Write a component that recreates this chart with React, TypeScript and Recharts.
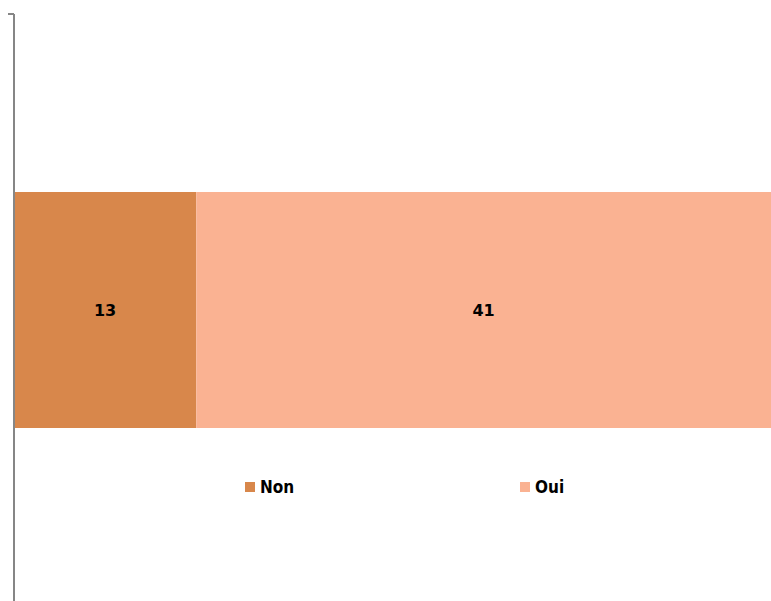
import { BarChart, Bar, XAxis, YAxis, LabelList } from "recharts";

const categories = ["Réponse"];
const nonValues = [13];
const ouiValues = [41];
const seriesNames = ["Non", "Oui"];
const seriesColors = ["#D8874B", "#FAB292"];

const data = categories.map((c, i) => ({
  name: c,
  Non: nonValues[i],
  Oui: ouiValues[i],
}));

const legendLeft = [245, 520];

// Excel-style tick marks on category boundaries
function BoundaryTick(props: any) {
  const { x, y, payload } = props;
  const half = payload && payload.offset ? payload.offset : 0;
  return (
    <g>
      <line x1={x - 6} x2={x} y1={y - half} y2={y - half} stroke="#868686" strokeWidth={2} />
      <line x1={x - 6} x2={x} y1={y + half} y2={y + half} stroke="#868686" strokeWidth={2} />
    </g>
  );
}

function ChartLegend() {
  return (
    <div style={{ position: "absolute", top: 477, left: 0, width: 771, height: 20 }}>
      {seriesNames.map((n, i) => (
        <div
          key={n}
          style={{
            position: "absolute",
            left: legendLeft[i],
            top: 0,
            display: "flex",
            alignItems: "center",
            fontFamily: "'Liberation Sans Narrow', 'DejaVu Sans Condensed', 'Liberation Sans', sans-serif",
            fontWeight: 700,
            fontSize: 17,
            color: "#000",
          }}
        >
          <span
            style={{
              display: "inline-block",
              width: 10,
              height: 10,
              background: seriesColors[i],
              marginRight: 5,
            }}
          />
          {n}
        </div>
      ))}
    </div>
  );
}

export default function App() {
  return (
    <div
      style={{
        position: "absolute",
        left: 0,
        top: 0,
        width: 771,
        height: 601,
        overflow: "hidden",
        background: "#fff",
      }}
    >
      <BarChart
        width={771}
        height={606}
        data={data}
        layout="vertical"
        margin={{ top: 14, right: 0, bottom: 0, left: 13 }}
      >
        <XAxis type="number" domain={[0, 54]} hide />
        <YAxis
          type="category"
          dataKey="name"
          width={1}
          axisLine={{ stroke: "#868686", strokeWidth: 2 }}
          tickLine={false}
          tickSize={0}
          tickMargin={0}
          tick={<BoundaryTick />}
        />
        {seriesNames.map((n, i) => (
          <Bar
            key={n}
            dataKey={n}
            stackId="a"
            fill={seriesColors[i]}
            barSize={236}
            isAnimationActive={false}
          >
            <LabelList
              dataKey={n}
              position="center"
              style={{
                fontFamily: "'DejaVu Sans', sans-serif",
                fontWeight: 700,
                fontSize: 16,
                fill: "#000",
              }}
            />
          </Bar>
        ))}
      </BarChart>
      <ChartLegend />
    </div>
  );
}
